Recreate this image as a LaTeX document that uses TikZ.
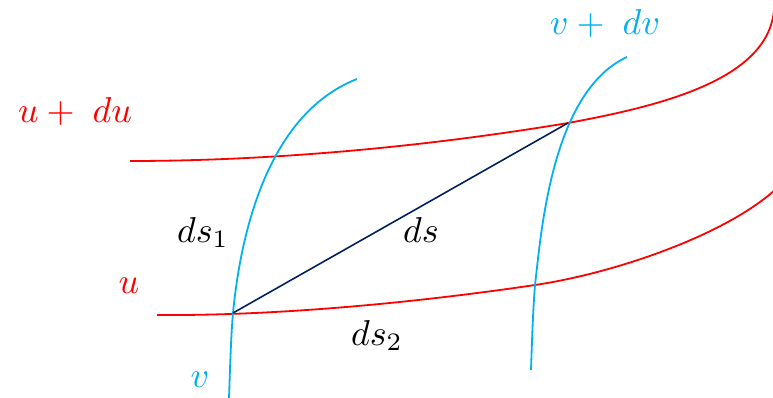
\documentclass[tikz,border=0pt]{standalone}
\usepackage{graphicx}
\definecolor{cred}{RGB}{255,0,0}
\definecolor{ccyan}{RGB}{0,176,240}
\definecolor{cnavy}{RGB}{0,32,96}
\newcommand{\lblmath}[1]{\scalebox{3.6}{$#1$}}
\tikzset{
  redcurve/.style={draw=cred, line width=1.8pt},
  bluecurve/.style={draw=ccyan, line width=1.8pt},
  diag/.style={draw=cnavy, line width=1.6pt},
  lbl/.style={inner sep=0pt, anchor=base},
}
\begin{document}
\begin{tikzpicture}[x=1pt,y=-1pt]
\useasboundingbox (0,0) rectangle (773,398);
\clip (0,0) rectangle (773,398);
\coordinate (A) at (233,313);
\coordinate (B) at (568,123);
\coordinate (D) at (535,285);
% u + du
\draw[redcurve] (130,161) .. controls (276,161) and (430,146) .. (B)
  .. controls (660,106) and (768,80) .. (774,10);
% u
\draw[redcurve] (157,315) .. controls (280,316) and (420,302) .. (D)
  .. controls (620,272.4) and (740,230) .. (785,180);
% v
\draw[bluecurve] (229,398) .. controls (230,370) and (231,335) .. (A)
  .. controls (240,240) and (265,115) .. (357,79);
% v + dv
\draw[bluecurve] (531,370) .. controls (532,340) and (533,310) .. (D)
  .. controls (541,235) and (551,92) .. (627,57);
\draw[diag] (A) -- (B);
\node[lbl, text=cred] (udu) at (75,123) {\lblmath{u+\;du}};
\node[lbl, text=ccyan] (vdv) at (605,35) {\lblmath{v+\;dv}};
\node[lbl] (ds1) at (203,242) {\lblmath{ds_1}};
\node[lbl] (ds) at (421,242) {\lblmath{ds}};
\node[lbl] (ds2) at (377,345) {\lblmath{ds_2}};
\node[lbl, text=cred] (u) at (129,293) {\lblmath{u}};
\node[lbl, text=ccyan] (v) at (200,387) {\lblmath{v}};
\end{tikzpicture}
\end{document}
